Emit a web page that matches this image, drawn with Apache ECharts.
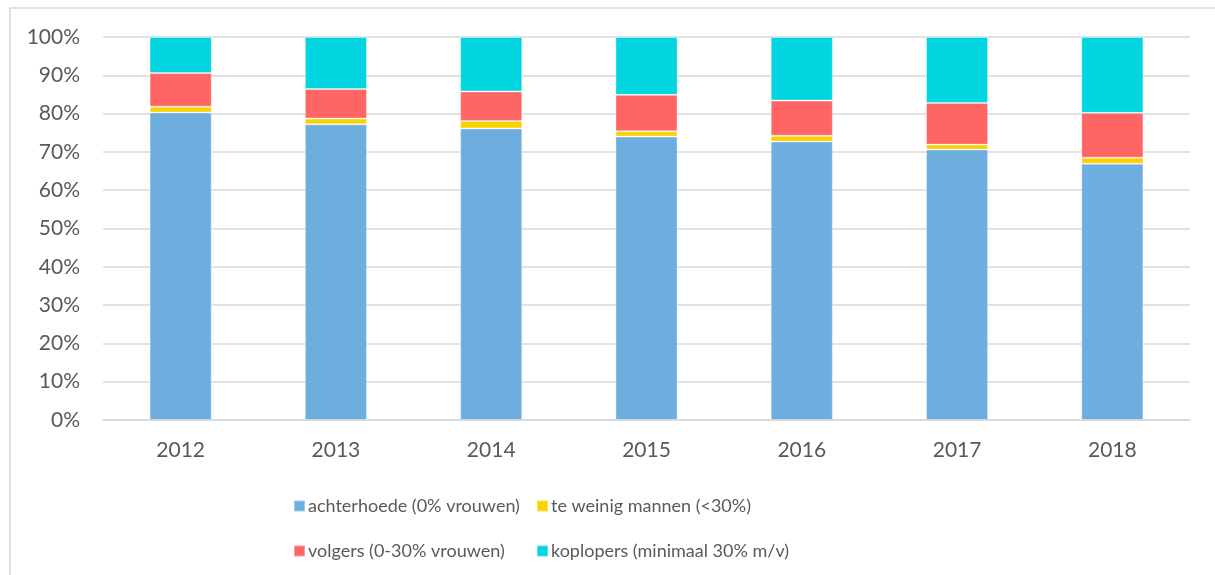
<!DOCTYPE html>
<html>
<head>
<meta charset="utf-8">
<script src="https://cdn.jsdelivr.net/npm/echarts@6/dist/echarts.min.js"></script>
<style>
  html, body { margin: 0; padding: 0; background: #fff; }
  #chart { width: 1215px; height: 575px; }
</style>
</head>
<body>
<div id="chart"></div>
<script>
// Jaren en aandelen per categorie (in %)
var years = ['2012', '2013', '2014', '2015', '2016', '2017', '2018'];
var achterhoede = [80.3, 77.2, 76.1, 74.0, 72.7, 70.6, 66.9];
var teWeinigMannen = [1.5, 1.5, 2.0, 1.4, 1.5, 1.3, 1.6];
var volgers = [8.8, 7.7, 7.7, 9.5, 9.2, 10.9, 11.7];
var koplopers = [9.4, 13.6, 14.2, 15.1, 16.6, 17.2, 19.8];

var names = [
  'achterhoede (0% vrouwen)',
  'te weinig mannen (<30%)',
  'volgers (0-30% vrouwen)',
  'koplopers (minimaal 30% m/v)'
];
var colors = ['#6daedf', '#fcd100', '#ff6565', '#00d5e0'];
var values = [achterhoede, teWeinigMannen, volgers, koplopers];

var font = 'Lato, "Open Sans", sans-serif';
var textColor = '#595959';

var chart = echarts.init(document.getElementById('chart'));

var series = values.map(function(v, i) {
  return {
    name: names[i],
    type: 'bar',
    stack: 'total',
    barWidth: '40%',
    data: v,
    itemStyle: {
      color: colors[i],
      borderColor: 'rgba(255,255,255,0.35)',
      borderWidth: 1
    }
  };
});

// one legend per item so the two columns line up
var legendPos = [
  { left: 288, top: 492 },
  { left: 531, top: 492 },
  { left: 288, top: 537 },
  { left: 531, top: 537 }
];
var legends = legendPos.map(function(p, i) {
  return {
    data: [names[i]],
    left: p.left,
    top: p.top,
    icon: 'rect',
    itemWidth: 11,
    itemHeight: 11,
    itemGap: 4,
    textStyle: { fontFamily: font, fontSize: 18, color: textColor, padding: [0, 0, 0, -2] }
  };
});

var option = {
  animation: false,
  graphic: [{
    type: 'rect',
    shape: { x: 10, y: 8, width: 1220, height: 580 },
    style: { fill: 'none', stroke: '#d9d9d9', lineWidth: 1.5 },
    silent: true
  }],
  legend: legends,
  grid: { left: 103, right: 25, top: 37, bottom: 155, containLabel: false },
  xAxis: {
    type: 'category',
    data: years,
    axisLine: { lineStyle: { color: '#d9d9d9', width: 1.5 } },
    axisTick: { show: false },
    axisLabel: { fontFamily: font, fontSize: 21, color: textColor, margin: 20 }
  },
  yAxis: {
    type: 'value',
    min: 0,
    max: 100,
    interval: 10,
    axisLine: { show: false },
    axisTick: { show: false },
    splitLine: { lineStyle: { color: '#d9d9d9', width: 1.5 } },
    axisLabel: {
      fontFamily: font, fontSize: 21, color: textColor, margin: 23,
      formatter: '{value}%'
    }
  },
  series: series
};

chart.setOption(option);
</script>
</body>
</html>
